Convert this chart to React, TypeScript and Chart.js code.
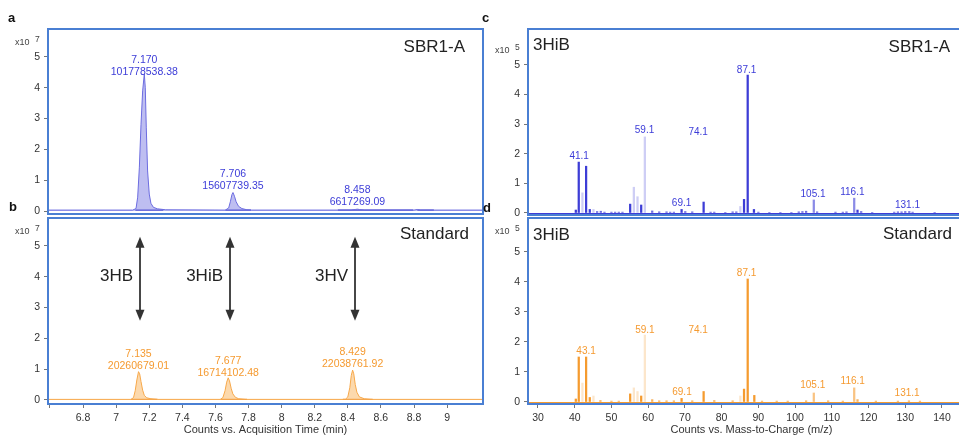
import React, { useEffect, useRef } from 'react';
import { Chart, registerables } from 'chart.js';

Chart.register(...registerables);

const FONT = '"Liberation Sans", Arial, Helvetica, sans-serif';
const BORDER = '#4a7fd3';

// ---------------- a: SBR1-A chromatogram (counts x10^7) ----------------
const sbrTime = [6.59, 7.10, 7.120, 7.130, 7.140, 7.150, 7.160, 7.170, 7.176, 7.182, 7.190, 7.200, 7.210, 7.225, 7.250, 7.300, 7.660, 7.680, 7.690, 7.700, 7.706, 7.715, 7.725, 7.740, 7.760, 7.790, 7.820, 8.420, 8.445, 8.458, 8.470, 8.500, 8.800, 8.820, 8.840, 9.220];
const sbrCounts = [0.03, 0.03, 0.08, 0.45, 1.40, 2.80, 3.90, 4.45, 4.00, 2.70, 1.30, 0.55, 0.25, 0.12, 0.07, 0.04, 0.03, 0.10, 0.30, 0.54, 0.60, 0.48, 0.30, 0.15, 0.08, 0.04, 0.03, 0.03, 0.05, 0.06, 0.05, 0.03, 0.03, 0.05, 0.03, 0.03];
const sbrPeakRT = ['7.170', '7.706', '8.458'];
const sbrPeakArea = ['101778538.38', '15607739.35', '6617269.09'];
const sbrPeakX = [7.170, 7.706, 8.458];
const sbrLabelY = [4.51, 0.81, 0.29];
const sbrBaseStart = [7.116, 7.66, 8.34, 8.82];
const sbrBaseEnd = [7.285, 7.815, 8.795, 8.92];
const sbrBaseLevel = 0.03;

// ---------------- b: Standard chromatogram (counts x10^7) ----------------
const stdTime = [6.59, 7.090, 7.105, 7.115, 7.125, 7.135, 7.142, 7.150, 7.160, 7.170, 7.185, 7.210, 7.250, 7.630, 7.645, 7.658, 7.668, 7.677, 7.685, 7.695, 7.705, 7.720, 7.740, 7.780, 8.385, 8.400, 8.412, 8.421, 8.429, 8.436, 8.445, 8.455, 8.470, 8.500, 8.540, 9.220];
const stdCounts = [0.02, 0.02, 0.08, 0.30, 0.65, 0.92, 0.85, 0.60, 0.32, 0.15, 0.07, 0.04, 0.02, 0.02, 0.08, 0.30, 0.58, 0.72, 0.62, 0.38, 0.20, 0.09, 0.04, 0.02, 0.02, 0.10, 0.40, 0.80, 0.97, 0.85, 0.50, 0.25, 0.10, 0.04, 0.02, 0.02];
const stdPeakRT = ['7.135', '7.677', '8.429'];
const stdPeakArea = ['20260679.01', '16714102.48', '22038761.92'];
const stdPeakX = [7.135, 7.677, 8.429];
const stdLabelY = [1.10, 0.88, 1.17];
const stdBaseStart = [7.09, 7.63, 8.37];
const stdBaseEnd = [7.25, 7.79, 8.55];
const stdBaseLevel = 0.02;

const compoundNames = ['3HB', '3HiB', '3HV'];
const compoundX = [7.142, 7.686, 8.441];
const arrowTop = 5.3;
const arrowBottom = 2.57;
const compoundNameY = 4.0;

const chromTickValues = [6.6, 6.8, 7.0, 7.2, 7.4, 7.6, 7.8, 8.0, 8.2, 8.4, 8.6, 8.8, 9.0];
const chromTickLabels = ['', '6.8', '7', '7.2', '7.4', '7.6', '7.8', '8', '8.2', '8.4', '8.6', '8.8', '9'];
const yTickValues = [0, 1, 2, 3, 4, 5];

// ---------------- c: 3HiB spectrum, SBR1-A (counts x10^5) ----------------
const spectrumSBR: [number, number][] = [
  [40.3, 0.10], [41.1, 1.72], [42.1, 0.68], [43.1, 1.58], [44.1, 0.12], [45.1, 0.12], [46.1, 0.05], [47.1, 0.06],
  [48.1, 0.03], [50.0, 0.03], [51.0, 0.03], [52.0, 0.03], [53.0, 0.03], [55.1, 0.30], [56.1, 0.87], [57.1, 0.55],
  [58.1, 0.27], [59.1, 2.57], [61.1, 0.07], [63.0, 0.04], [65.0, 0.04], [66.0, 0.03], [67.0, 0.03], [69.1, 0.12],
  [70.1, 0.05], [72.0, 0.04], [75.1, 0.37], [77.0, 0.03], [78.0, 0.03], [81.0, 0.02], [83.0, 0.04], [84.0, 0.04],
  [85.1, 0.22], [86.1, 0.46], [87.1, 4.66], [88.8, 0.12], [90.0, 0.03], [93.0, 0.02], [96.0, 0.02], [99.0, 0.02],
  [101.0, 0.04], [102.0, 0.05], [103.0, 0.06], [105.1, 0.44], [106.0, 0.04], [111.0, 0.03], [113.0, 0.03], [114.0, 0.04],
  [116.1, 0.50], [117.0, 0.10], [118.0, 0.05], [121.0, 0.02], [127.0, 0.03], [128.0, 0.04], [129.0, 0.04], [130.0, 0.05],
  [131.1, 0.05], [132.0, 0.03], [138.0, 0.02],
];
const spectrumSBRLabels: [string, number, number][] = [
  ['41.1', 41.2, 1.93], ['59.1', 59.0, 2.80], ['74.1', 73.6, 2.74], ['69.1', 69.1, 0.34],
  ['87.1', 86.8, 4.83], ['105.1', 104.9, 0.64], ['116.1', 115.6, 0.71], ['131.1', 130.6, 0.27],
];

// ---------------- d: 3HiB spectrum, Standard (counts x10^5) ----------------
const spectrumStd: [number, number][] = [
  [40.3, 0.10], [41.1, 1.50], [42.1, 0.63], [43.1, 1.50], [44.1, 0.15], [45.1, 0.20], [47.0, 0.05], [50.0, 0.03],
  [52.0, 0.03], [55.1, 0.27], [56.1, 0.47], [57.1, 0.35], [58.1, 0.20], [59.1, 2.23], [61.1, 0.08], [63.0, 0.04],
  [65.0, 0.04], [67.0, 0.04], [69.1, 0.12], [72.0, 0.04], [75.1, 0.35], [78.0, 0.05], [83.0, 0.04], [85.1, 0.20],
  [86.1, 0.43], [87.1, 4.10], [88.9, 0.22], [91.0, 0.03], [95.0, 0.03], [98.0, 0.03], [103.0, 0.04], [105.1, 0.30],
  [109.0, 0.04], [113.0, 0.03], [116.1, 0.47], [117.0, 0.08], [122.0, 0.03], [128.0, 0.03], [131.0, 0.04], [134.0, 0.03],
];
const spectrumStdLabels: [string, number, number][] = [
  ['43.1', 43.1, 1.70], ['59.1', 59.1, 2.40], ['74.1', 73.6, 2.40], ['69.1', 69.2, 0.33],
  ['87.1', 86.8, 4.30], ['105.1', 104.8, 0.57], ['116.1', 115.7, 0.70], ['131.1', 130.5, 0.30],
];

const fadedPeaks = [42.1, 45.1, 56.1, 57.1, 59.1, 85.1];
const mediumPeaks = [105.1, 116.1];
const majorPeaks = [41.1, 43.1, 87.1];
const mzTickValues = [30, 40, 50, 60, 70, 80, 90, 100, 110, 120, 130, 140];

// ---------------- helpers ----------------
interface PanelText { text: string; anchor: 'left' | 'right'; dx: number; dy: number }
interface DataLabel { lines: string[]; x: number; y: number }
interface Decor {
  exponent: string;
  expY: number;
  texts: PanelText[];
  labels: DataLabel[];
  labelColor: string;
  labelSize: number;
  arrows?: boolean;
  zeroColor?: string;
}

function decorPlugin(d: Decor) {
  return {
    id: 'decor',
    afterDatasetsDraw(chart: any) {
      const { ctx, chartArea: ca, scales } = chart;
      const xs = scales.x;
      const ys = scales.y;
      ctx.save();
      if (d.zeroColor) {
        const y0 = Math.round(ys.getPixelForValue(0)) + 0.5;
        ctx.strokeStyle = d.zeroColor;
        ctx.lineWidth = 1;
        ctx.beginPath();
        ctx.moveTo(ca.left, y0);
        ctx.lineTo(ca.right, y0);
        ctx.stroke();
      }
      ctx.font = `${d.labelSize}px ${FONT}`;
      ctx.fillStyle = d.labelColor;
      ctx.textAlign = 'center';
      ctx.textBaseline = 'middle';
      for (const l of d.labels) {
        const px = xs.getPixelForValue(l.x);
        const py = ys.getPixelForValue(l.y);
        l.lines.forEach((t, i) => ctx.fillText(t, px, py - (l.lines.length - 1 - i) * 12));
      }
      if (d.arrows) {
        compoundX.forEach((xv, i) => {
          const px = Math.round(xs.getPixelForValue(xv));
          const top = ys.getPixelForValue(arrowTop);
          const bot = ys.getPixelForValue(arrowBottom);
          const hh = 11;
          const hw = 4.5;
          ctx.strokeStyle = '#333';
          ctx.fillStyle = '#333';
          ctx.lineWidth = 1.8;
          ctx.beginPath();
          ctx.moveTo(px, top + hh - 1);
          ctx.lineTo(px, bot - hh + 1);
          ctx.stroke();
          ctx.beginPath();
          ctx.moveTo(px, top);
          ctx.lineTo(px - hw, top + hh);
          ctx.lineTo(px + hw, top + hh);
          ctx.closePath();
          ctx.fill();
          ctx.beginPath();
          ctx.moveTo(px, bot);
          ctx.lineTo(px - hw, bot - hh);
          ctx.lineTo(px + hw, bot - hh);
          ctx.closePath();
          ctx.fill();
          ctx.font = `17px ${FONT}`;
          ctx.fillStyle = '#222';
          ctx.textAlign = 'right';
          ctx.textBaseline = 'middle';
          ctx.fillText(compoundNames[i], px - 7, ys.getPixelForValue(compoundNameY));
        });
      }
      ctx.restore();
    },
    afterDraw(chart: any) {
      const { ctx, chartArea: ca } = chart;
      ctx.save();
      ctx.strokeStyle = BORDER;
      ctx.lineWidth = 2;
      ctx.strokeRect(ca.left, ca.top, ca.right - ca.left, ca.bottom - ca.top);
      ctx.fillStyle = '#222';
      ctx.font = `17px ${FONT}`;
      ctx.textBaseline = 'middle';
      for (const t of d.texts) {
        ctx.textAlign = t.anchor;
        const x = t.anchor === 'left' ? ca.left + t.dx : ca.right - t.dx;
        ctx.fillText(t.text, x, ca.top + t.dy);
      }
      ctx.fillStyle = '#444';
      ctx.textAlign = 'left';
      ctx.font = `9px ${FONT}`;
      ctx.fillText('x10', 15, d.expY);
      ctx.font = `8.5px ${FONT}`;
      ctx.fillText(d.exponent, 35, d.expY - 3);
      ctx.restore();
    },
  };
}

function yAxis(min: number, max: number) {
  return {
    type: 'linear',
    min,
    max,
    afterFit: (s: any) => {
      s.width = 48;
      s.paddingTop = 0;
      s.paddingBottom = 0;
    },
    afterBuildTicks: (s: any) => {
      s.ticks = yTickValues.map((v) => ({ value: v }));
    },
    ticks: { font: { family: FONT, size: 10.5 }, color: '#333', padding: 4, callback: (v: any) => String(v) },
    grid: { drawOnChartArea: false, drawTicks: true, tickLength: 4, color: '#777' },
    border: { display: false },
  };
}

function xAxis(min: number, max: number, values?: number[], labels?: string[], title?: string) {
  if (!title || !values || !labels) {
    return { type: 'linear', min, max, display: false, offset: false };
  }
  return {
    type: 'linear',
    min,
    max,
    offset: false,
    afterFit: (s: any) => {
      s.height = 31;
      s.paddingLeft = 0;
      s.paddingRight = 0;
    },
    afterBuildTicks: (s: any) => {
      s.ticks = values.map((v) => ({ value: v }));
    },
    ticks: {
      font: { family: FONT, size: 10.5 },
      color: '#333',
      padding: 4,
      autoSkip: false,
      maxRotation: 0,
      callback: (_v: any, i: number) => labels[i],
    },
    grid: { drawOnChartArea: false, tickLength: 4, color: '#777', offset: false },
    border: { display: false },
    title: {
      display: true,
      text: title,
      font: { family: FONT, size: 11, lineHeight: 0.9 },
      color: '#333',
      padding: { top: 0, bottom: 0 },
    },
  };
}

function baselineSegments(starts: number[], ends: number[], level: number) {
  const out: any[] = [];
  starts.forEach((s, i) => {
    out.push({ x: s, y: level }, { x: ends[i], y: level }, { x: ends[i], y: null });
  });
  return out;
}

const CHROM_MIN = 6.588;
const CHROM_MAX = 9.217;
const MZ_MIN = 27.28;
const MZ_MAX = 148.99;

function chromConfig(opts: {
  time: number[]; counts: number[]; line: string; fill: string; baseColor: string;
  baseStart: number[]; baseEnd: number[]; baseLevel: number;
  rt: string[]; area: string[]; peakX: number[]; labelY: number[]; labelColor: string;
  yMin: number; yMax: number; padding: any; showX: boolean; decor: Partial<Decor>;
}) {
  const labels: DataLabel[] = opts.peakX.map((x, i) => ({ lines: [opts.rt[i], opts.area[i]], x, y: opts.labelY[i] }));
  return {
    type: 'line',
    data: {
      datasets: [
        {
          data: opts.time.map((t, i) => ({ x: t, y: opts.counts[i] })),
          borderColor: opts.line,
          backgroundColor: opts.fill,
          borderWidth: 1,
          pointRadius: 0,
          tension: 0,
          fill: 'origin',
        },
        {
          data: baselineSegments(opts.baseStart, opts.baseEnd, opts.baseLevel),
          borderColor: opts.baseColor,
          borderWidth: 1.2,
          pointRadius: 0,
          fill: false,
          spanGaps: false,
        },
      ],
    },
    options: {
      animation: false,
      responsive: false,
      maintainAspectRatio: false,
      events: [],
      layout: { padding: opts.padding },
      plugins: { legend: { display: false }, tooltip: { enabled: false } },
      scales: {
        x: opts.showX
          ? xAxis(CHROM_MIN, CHROM_MAX, chromTickValues, chromTickLabels, 'Counts vs. Acquisition Time (min)')
          : xAxis(CHROM_MIN, CHROM_MAX),
        y: yAxis(opts.yMin, opts.yMax),
      },
    },
    plugins: [
      decorPlugin({
        exponent: '7',
        expY: 43,
        texts: [],
        labels,
        labelColor: opts.labelColor,
        labelSize: 10.5,
        ...opts.decor,
      } as Decor),
    ],
  };
}

function spectrumConfig(opts: {
  spectrum: [number, number][]; labels: [string, number, number][]; rgb: string; labelColor: string;
  yMin: number; yMax: number; padding: any; showX: boolean; decor: Partial<Decor>;
}) {
  const colors = opts.spectrum.map(([mz, v]) =>
    fadedPeaks.includes(mz)
      ? `rgba(${opts.rgb},0.25)`
      : mediumPeaks.includes(mz)
        ? `rgba(${opts.rgb},0.6)`
        : v < 0.1
          ? `rgba(${opts.rgb},0.75)`
          : `rgb(${opts.rgb})`,
  );
  const widths = opts.spectrum.map(([mz]) => (majorPeaks.includes(mz) ? 2 : 1.5));
  return {
    type: 'bar',
    data: {
      datasets: [
        {
          data: opts.spectrum.map(([x, y]) => ({ x, y })),
          backgroundColor: colors,
          borderWidth: 0,
          barThickness: 1.6,
          maxBarThickness: 2,
          barPercentage: 1,
          categoryPercentage: 1,
          _widths: widths,
        },
      ],
    },
    options: {
      animation: false,
      responsive: false,
      maintainAspectRatio: false,
      events: [],
      layout: { padding: opts.padding },
      plugins: { legend: { display: false }, tooltip: { enabled: false } },
      scales: {
        x: opts.showX
          ? xAxis(MZ_MIN, MZ_MAX, mzTickValues, mzTickValues.map(String), 'Counts vs. Mass-to-Charge (m/z)')
          : xAxis(MZ_MIN, MZ_MAX),
        y: yAxis(opts.yMin, opts.yMax),
      },
    },
    plugins: [
      decorPlugin({
        exponent: '5',
        expY: 51,
        texts: [],
        labels: opts.labels.map(([t, x, y]) => ({ lines: [t], x, y })),
        labelColor: opts.labelColor,
        labelSize: 10,
        zeroColor: `rgb(${opts.rgb})`,
        ...opts.decor,
      } as Decor),
    ],
  };
}

function ChartCanvas({ left, top, width, height, make }: { left: number; top: number; width: number; height: number; make: () => any }) {
  const ref = useRef<HTMLCanvasElement>(null);
  useEffect(() => {
    const chart = new Chart(ref.current as HTMLCanvasElement, make());
    return () => chart.destroy();
  }, []);
  return (
    <canvas
      ref={ref}
      width={width}
      height={height}
      style={{ position: 'absolute', left, top, width, height, display: 'block' }}
    />
  );
}

const BLUE_LABEL = '#3c3cd8';
const ORANGE_LABEL = '#f59a30';

const letterStyle = (left: number, top: number): React.CSSProperties => ({
  position: 'absolute',
  left,
  top,
  font: `bold 13px ${FONT}`,
  lineHeight: '13px',
  color: '#111',
  zIndex: 2,
});

export default function App() {
  return (
    <div
      style={{ position: 'absolute', left: 0, top: 0, width: 959, height: 435, overflow: 'hidden', background: '#fff' }}
    >
      <ChartCanvas
        left={0}
        top={0}
        width={485}
        height={216}
        make={() =>
          chromConfig({
            time: sbrTime, counts: sbrCounts, line: '#6c6ce0', fill: 'rgba(125,125,228,0.5)', baseColor: '#3434c8',
            baseStart: sbrBaseStart, baseEnd: sbrBaseEnd, baseLevel: sbrBaseLevel,
            rt: sbrPeakRT, area: sbrPeakArea, peakX: sbrPeakX, labelY: sbrLabelY, labelColor: BLUE_LABEL,
            yMin: -0.097, yMax: 5.909, padding: { top: 29, right: 2, bottom: 2, left: 0 }, showX: false,
            decor: { expY: 43, texts: [{ text: 'SBR1-A', anchor: 'right', dx: 18, dy: 18 }] },
          })
        }
      />
      <ChartCanvas
        left={0}
        top={216}
        width={485}
        height={219}
        make={() =>
          chromConfig({
            time: stdTime, counts: stdCounts, line: '#f7a84a', fill: 'rgba(250,185,105,0.55)', baseColor: '#f09030',
            baseStart: stdBaseStart, baseEnd: stdBaseEnd, baseLevel: stdBaseLevel,
            rt: stdPeakRT, area: stdPeakArea, peakX: stdPeakX, labelY: stdLabelY, labelColor: ORANGE_LABEL,
            yMin: -0.13, yMax: 5.909, padding: { top: 2, right: 2, bottom: 0, left: 0 }, showX: true,
            decor: { expY: 16, arrows: true, texts: [{ text: 'Standard', anchor: 'right', dx: 14, dy: 16 }] },
          })
        }
      />
      <ChartCanvas
        left={480}
        top={0}
        width={495}
        height={216}
        make={() =>
          spectrumConfig({
            spectrum: spectrumSBR, labels: spectrumSBRLabels, rgb: '61,61,214', labelColor: BLUE_LABEL,
            yMin: -0.068, yMax: 6.216, padding: { top: 29, right: 0, bottom: 1, left: 0 }, showX: false,
            decor: {
              expY: 51,
              texts: [
                { text: '3HiB', anchor: 'left', dx: 5, dy: 16 },
                { text: 'SBR1-A', anchor: 'right', dx: 25, dy: 18 },
              ],
            },
          })
        }
      />
      <ChartCanvas
        left={480}
        top={216}
        width={495}
        height={219}
        make={() =>
          spectrumConfig({
            spectrum: spectrumStd, labels: spectrumStdLabels, rgb: '245,155,47', labelColor: ORANGE_LABEL,
            yMin: -0.067, yMax: 6.133, padding: { top: 2, right: 0, bottom: 0, left: 0 }, showX: true,
            decor: {
              expY: 16,
              texts: [
                { text: '3HiB', anchor: 'left', dx: 5, dy: 17 },
                { text: 'Standard', anchor: 'right', dx: 23, dy: 16 },
              ],
            },
          })
        }
      />
      <div style={letterStyle(8, 11)}>a</div>
      <div style={letterStyle(9, 200)}>b</div>
      <div style={letterStyle(482, 11)}>c</div>
      <div style={letterStyle(483, 201)}>d</div>
    </div>
  );
}
